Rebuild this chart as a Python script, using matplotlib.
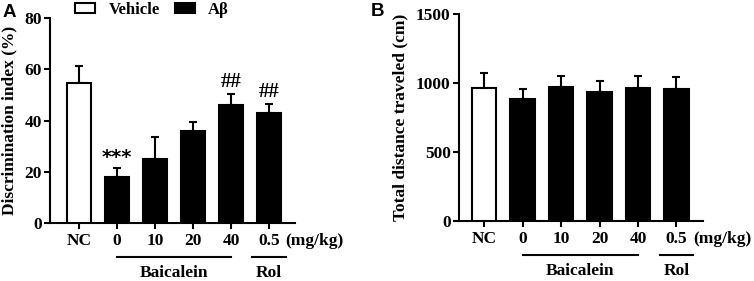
import numpy as np
import matplotlib
matplotlib.use("Agg")
import matplotlib.pyplot as plt
from matplotlib.patches import Patch

plt.rcParams['font.family'] = ['Liberation Serif', 'DejaVu Serif']
plt.rcParams['font.weight'] = 'bold'
plt.rcParams['font.size'] = 12

# Data
groups = ["NC", "0", "10", "20", "40", "0.5"]
is_vehicle = [True, False, False, False, False, False]

di_mean = [54.7, 18.0, 25.0, 36.0, 46.0, 43.0]
di_err = [6.6, 3.5, 8.4, 3.5, 4.4, 3.5]
di_marks = ["", "***", "", "", "##", "##"]

dist_mean = [964, 884, 971, 935, 964, 957]
dist_err = [108, 73, 80, 79, 87, 86]

x = np.arange(len(groups))
lw = 1.5
fs = 12.5


def draw_panel(ax, mean, err, ylim, yticks, ylabel, label_x, marks=None):
    colors = ["white" if v else "black" for v in is_vehicle]
    ax.bar(x, mean, width=0.64, color=colors, edgecolor="black", linewidth=lw, zorder=3)
    ax.errorbar(x, mean, yerr=[np.zeros(len(err)), err], fmt="none", ecolor="black",
                elinewidth=lw, capsize=3, capthick=lw, zorder=2)
    ax.set_ylim(*ylim)
    ax.set_yticks(yticks)
    ax.set_xticks(x)
    ax.set_xticklabels(groups)
    ax.set_ylabel(ylabel, fontsize=12.5, fontweight="bold")
    ax.yaxis.set_label_coords(label_x, 0.5)
    for s in ["top", "right"]:
        ax.spines[s].set_visible(False)
    for s in ["left", "bottom"]:
        ax.spines[s].set_linewidth(lw)
    ax.tick_params(width=lw, length=4, labelsize=fs, pad=2)
    ax.tick_params(axis="x", pad=3)

    if marks:
        for xi, m, t, e in zip(x, marks, mean, err):
            if m:
                star = m.startswith("*")
                ax.annotate(m, (xi, t + e), xytext=(0, 1), textcoords="offset points",
                            ha="center", va="bottom", fontsize=14 if star else 15,
                            fontfamily="DejaVu Sans" if star else None)

    tr = ax.get_xaxis_transform()
    ax.annotate("(mg/kg)", (6.2, 0), xycoords=tr, xytext=(0, -7), textcoords="offset points",
                ha="center", va="top", fontsize=fs)
    ax.plot([1, 4], [-0.165, -0.165], transform=tr, color="black", lw=lw, clip_on=False)
    ax.plot([5 - 0.44, 5 + 0.44], [-0.165, -0.165], transform=tr, color="black", lw=lw, clip_on=False)
    ax.text(2.5, -0.205, "Baicalein", transform=tr, ha="center", va="top", fontsize=fs)
    ax.text(5, -0.205, "Rol", transform=tr, ha="center", va="top", fontsize=fs)


fig = plt.figure(figsize=(7.54, 2.81), dpi=100)
axA = fig.add_axes([0.0663, 0.2064, 0.325, 0.7295])
axB = fig.add_axes([0.6088, 0.2135, 0.3236, 0.7367])

draw_panel(axA, di_mean, di_err, (0, 80), [0, 20, 40, 60, 80],
           "Discrimination index (%)", -0.131, di_marks)
axA.set_xlim(-0.763, 5.684)

draw_panel(axB, dist_mean, dist_err, (0, 1500), [0, 500, 1000, 1500],
           "Total distance traveled (cm)", -0.209)
axB.set_xlim(-0.65, 5.69)

handles = [Patch(facecolor="white", edgecolor="black", linewidth=lw, label="Vehicle"),
           Patch(facecolor="black", edgecolor="black", linewidth=lw, label="A\u03b2")]
fig.legend(handles=handles, loc="center left", bbox_to_anchor=(0.1, 0.965), ncol=2,
           frameon=False, handlelength=1.2, handleheight=0.6, columnspacing=0.9,
           handletextpad=0.8, borderaxespad=0, borderpad=0, fontsize=12)

fig.text(0.004, 0.955, "A", fontfamily="Liberation Sans", fontweight="bold", fontsize=13.5,
         ha="left", va="center")
fig.text(0.492, 0.959, "B", fontfamily="Liberation Sans", fontweight="bold", fontsize=13.5,
         ha="left", va="center")

fig.savefig("out.png", dpi=100)
